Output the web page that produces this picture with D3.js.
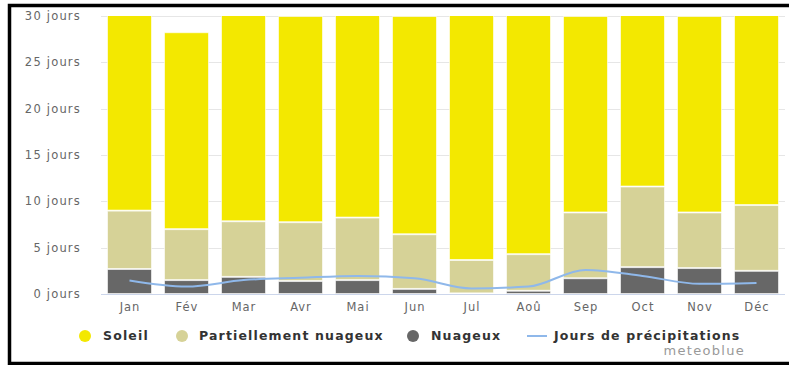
<!DOCTYPE html>
<html><head><meta charset="utf-8">
<script src="https://cdn.jsdelivr.net/npm/d3@7"></script>
<style>html,body{margin:0;padding:0;background:#fff;overflow:hidden}</style>
</head><body>
<svg id="c" width="789" height="365"></svg>
<script>
const months = ["Jan","Fév","Mar","Avr","Mai","Jun","Jul","Aoû","Sep","Oct","Nov","Déc"];
const nuageux = [2.7, 1.5, 1.85, 1.4, 1.5, 0.55, 0.07, 0.35, 1.7, 2.9, 2.8, 2.5];
const partiel = [6.3, 5.5, 6.0, 6.35, 6.75, 5.9, 3.6, 3.95, 7.1, 8.7, 6.0, 7.1];
const soleil = [22.0, 21.25, 23.15, 22.25, 22.75, 23.55, 27.33, 26.7, 21.2, 19.4, 21.2, 21.4];
const precip = [1.45, 0.8, 1.5, 1.75, 1.95, 1.7, 0.6, 0.8, 2.6, 1.95, 1.1, 1.2];
const yTicks = [0, 5, 10, 15, 20, 25, 30];
const seriesNames = ["Soleil", "Partiellement nuageux", "Nuageux", "Jours de précipitations"];
const colors = {soleil: "#f3e800", partiel: "#d6d297", nuageux: "#676767", precip: "#8fb8ea"};

const svg = d3.select("#c");
const pLeft = 101, pRight = 785, pTop = 16, pBottom = 294;

const x = d3.scaleBand().domain(months).range([pLeft, pRight]).paddingInner(12/57).paddingOuter(6/57);
const y = d3.scaleLinear().domain([0, 30]).range([pBottom, pTop]);

svg.append("defs").append("clipPath").attr("id","pc")
  .append("rect").attr("x", pLeft).attr("y", pTop).attr("width", pRight-pLeft).attr("height", pBottom-pTop);

svg.append("g").selectAll("line").data(yTicks).join("line")
  .attr("x1", pLeft).attr("x2", pRight)
  .attr("y1", d => Math.round(y(d)) + 0.5).attr("y2", d => Math.round(y(d)) + 0.5)
  .attr("stroke", "#e6e6e6").attr("stroke-width", 1);

svg.append("g").selectAll("text").data(yTicks).join("text")
  .attr("x", 81).attr("y", d => y(d)).attr("dy", "0.35em")
  .attr("text-anchor", "end")
  .attr("font-family", "DejaVu Sans, sans-serif").attr("font-size", 11.5)
  .attr("letter-spacing", 1.2)
  .attr("fill", "#666").text(d => d + " jours");

const rows = months.map((m, i) => ({m, nuageux: nuageux[i], partiel: partiel[i], soleil: soleil[i]}));
const stack = d3.stack().keys(["nuageux", "partiel", "soleil"])(rows);

const gb = svg.append("g").attr("clip-path", "url(#pc)");
stack.forEach(s => {
  gb.append("g").selectAll("rect").data(s).join("rect")
    .attr("x", d => x(d.data.m) + 0.5)
    .attr("width", x.bandwidth() - 1)
    .attr("y", d => y(d[1]) + 0.5)
    .attr("height", d => Math.max(0, y(d[0]) - y(d[1]) - 1))
    .attr("fill", colors[s.key])
    .attr("stroke", "#ffffff").attr("stroke-opacity", 0.6).attr("stroke-width", 1);
});

svg.append("line").attr("x1", pLeft).attr("x2", pRight)
  .attr("y1", pBottom + 0.5).attr("y2", pBottom + 0.5)
  .attr("stroke", "#ccd6eb").attr("stroke-width", 1);

svg.append("g").selectAll("text").data(months).join("text")
  .attr("x", d => x(d) + x.bandwidth()/2 + 0.5).attr("y", 307).attr("dy", "0.35em")
  .attr("text-anchor", "middle")
  .attr("font-family", "DejaVu Sans, sans-serif").attr("font-size", 11.5)
  .attr("letter-spacing", 1)
  .attr("fill", "#666").text(d => d);

const line = d3.line().x((d, i) => x(months[i]) + x.bandwidth()/2).y(d => y(d)).curve(d3.curveMonotoneX);
svg.append("path").datum(precip).attr("d", line)
  .attr("fill", "none").attr("stroke", colors.precip).attr("stroke-width", 2);

const lg = svg.append("g").attr("font-family", "DejaVu Sans, sans-serif").attr("font-size", 12.5)
  .attr("font-weight", "bold").attr("fill", "#333").attr("letter-spacing", 1.15);
const ly = 336;
const legItems = [
  {name: seriesNames[0], c: colors.soleil, sx: 85, tx: 103},
  {name: seriesNames[1], c: colors.partiel, sx: 182, tx: 199},
  {name: seriesNames[2], c: colors.nuageux, sx: 413, tx: 431}
];
legItems.forEach(it => {
  lg.append("circle").attr("cx", it.sx).attr("cy", ly).attr("r", 6).attr("fill", it.c);
  lg.append("text").attr("x", it.tx).attr("y", ly).attr("dy", "0.35em").text(it.name);
});
lg.append("line").attr("x1", 527).attr("x2", 547).attr("y1", ly).attr("y2", ly)
  .attr("stroke", colors.precip).attr("stroke-width", 2);
lg.append("text").attr("x", 554).attr("y", ly).attr("dy", "0.35em").text(seriesNames[3]);

svg.append("text").attr("x", 745).attr("y", 350).attr("dy", "0.35em").attr("text-anchor", "end")
  .attr("font-family", "DejaVu Sans, sans-serif").attr("font-size", 13).attr("fill", "#999")
  .attr("letter-spacing", 1.3)
  .text("meteoblue");

svg.append("path").attr("d", "M 795 5.5 H 9.5 V 363.5 H 795")
  .attr("fill", "none").attr("stroke", "#000").attr("stroke-width", 3.5);
</script>
</body></html>
